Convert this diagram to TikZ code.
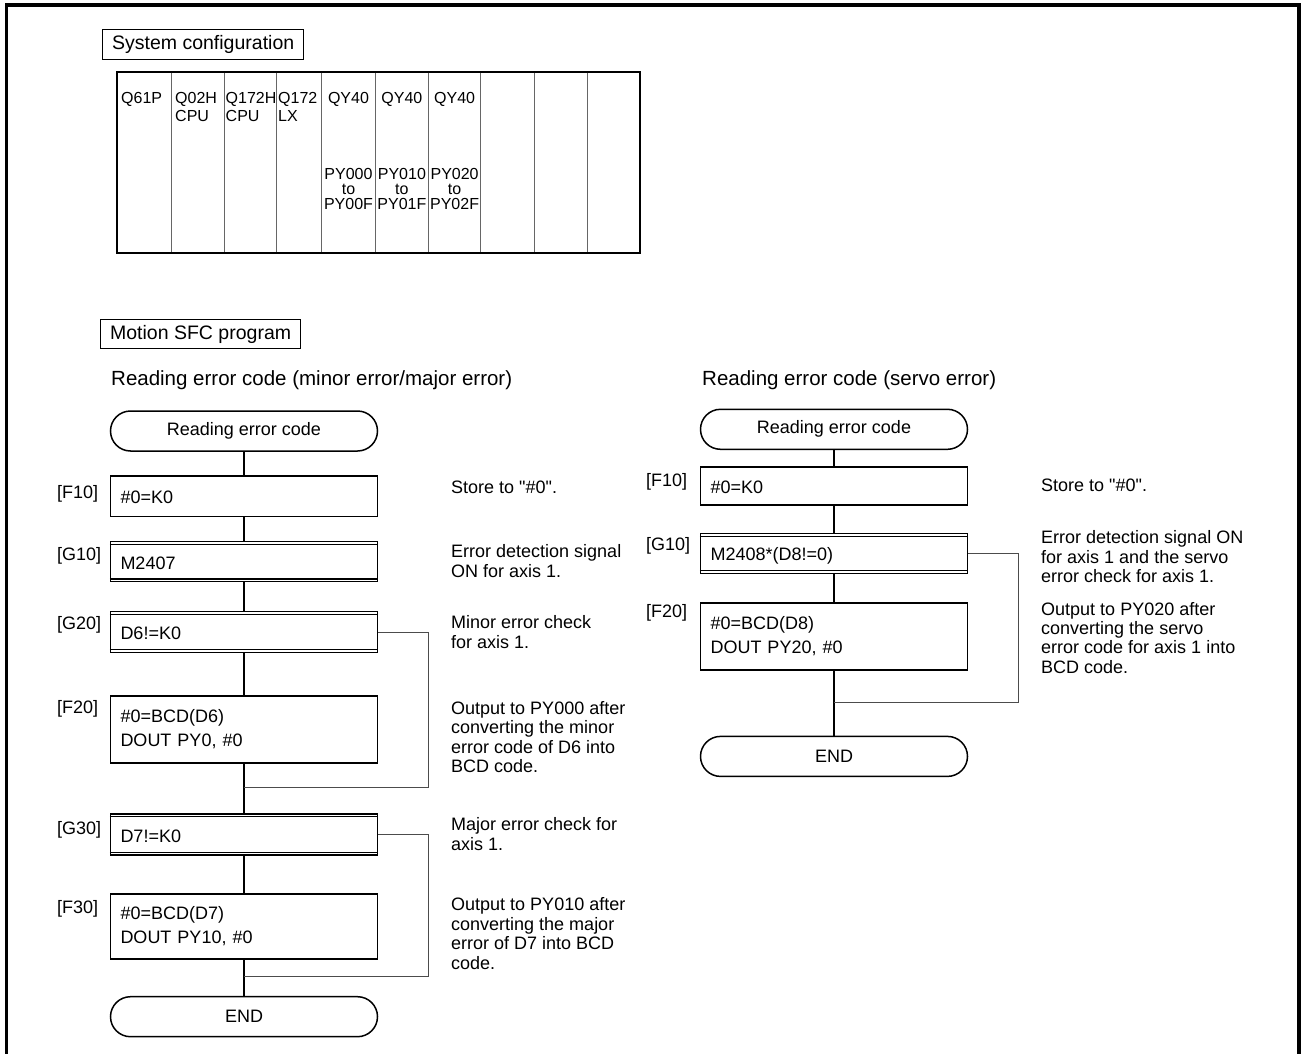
\documentclass[tikz,border=0pt]{standalone}
\usepackage{fontspec}
\setmainfont{Liberation Sans}[Ligatures=TeXOff]
\begin{document}
\begin{tikzpicture}[x=1pt,y=-1pt,
  txt/.style={inner sep=0pt, font=\fontsize{18}{19.4}\selectfont},
  desc/.style={txt, anchor=west, align=left},
  lbl/.style={txt, anchor=base west},
  sub/.style={inner sep=0pt, anchor=base west, font=\fontsize{20.5}{22}\selectfont},
  hdr/.style={draw, line width=1.3pt, inner xsep=9.5pt, inner ysep=0pt, minimum height=29.5pt, anchor=west, font=\fontsize{19.5}{21}\selectfont},
  tt/.style={inner sep=0pt, font=\fontsize{16}{18}\selectfont},
  tp/.style={inner sep=0pt, align=center, font=\fontsize{16}{15.4}\selectfont},
  term/.style={draw, line width=1.5pt, rounded corners=20pt, minimum width=267pt, minimum height=40pt, inner sep=0pt, font=\fontsize{18}{19.4}\selectfont},
  stepbox/.style={draw, line width=1.5pt, minimum width=267pt, text width=247pt, align=left, inner xsep=10pt, inner ysep=0pt, font=\fontsize{18}{24}\selectfont},
  one/.style={text height=15pt, text depth=0pt},
  conn/.style={line width=1.2pt},
  branch/.style={line width=0.9pt, draw=black!70},
  dbl/.style={line width=1.1pt}
]
\useasboundingbox (0,0) rectangle (1301,1054);
% outer frame (open at bottom)
\draw[line width=3.5pt] (6.5,1054) -- (6.5,5) -- (1299,5) -- (1299,1054);

% ---------- system configuration ----------
\node[hdr] (sysh) at (102,44.5) {System configuration};
\draw[line width=2pt] (117,71.7) rectangle (640,253);
\foreach \x in {171,224.4,276.4,321.8,375.3,428.4,480.7,534.5,587.3}
  \draw[line width=0.8pt, black!60] (\x,72.7) -- (\x,252);
\node[tt, anchor=base west] (c1) at (121,103.3) {Q61P};
\node[tt, anchor=west, align=left] (c2) at (175,106.5) {Q02H\\CPU};
\node[tt, anchor=west, align=left] (c3) at (225.5,106.5) {Q172H\\CPU};
\node[tt, anchor=west, align=left] (c4) at (278,106.5) {Q172\\LX};
\node[tt, anchor=base] (c5) at (348.5,103.3) {QY40};
\node[tt, anchor=base] (c6) at (401.9,103.3) {QY40};
\node[tt, anchor=base] (c7) at (454.6,103.3) {QY40};
\node[tp] (p5) at (348.5,189) {PY000\\to\\PY00F};
\node[tp] (p6) at (401.9,189) {PY010\\to\\PY01F};
\node[tp] (p7) at (454.6,189) {PY020\\to\\PY02F};

% ---------- Motion SFC ----------
\node[hdr] (sfch) at (100,334) {Motion SFC program};

% left program
\node[sub] (sub1) at (111,385.7) {Reading error code (minor error/major error)};
\node[term] (s1) at (244,431) {Reading error code};
\node[stepbox, one, minimum height=40.7pt] (f10) at (244,496.3) {\#0=K0};
\node[stepbox, one, minimum height=40pt] (g10) at (244,561.7) {M2407};
\node[stepbox, one, minimum height=40.6pt] (g20) at (244,632) {D6!=K0};
\node[stepbox, minimum height=67.3pt] (f20) at (244,729.4) {\#0=BCD(D6)\\DOUT PY0, \#0};
\node[stepbox, one, minimum height=41pt] (g30) at (244,834.5) {D7!=K0};
\node[stepbox, minimum height=65pt] (f30) at (244,926.5) {\#0=BCD(D7)\\DOUT PY10, \#0};
\node[term] (e1) at (244,1016.7) {END};

\node[lbl] (lf10) at (57,498.3) {[F10]};
\node[lbl] (lg10) at (57,560) {[G10]};
\node[lbl] (lg20) at (57,629) {[G20]};
\node[lbl] (lf20) at (57,713.3) {[F20]};
\node[lbl] (lg30) at (57,834) {[G30]};
\node[lbl] (lf30) at (57,913) {[F30]};

\node[desc] (d1) at (451,487) {Store to "\#0".};
\node[desc] (d2) at (451,561) {Error detection signal\\ON for axis 1.};
\node[desc] (d3) at (451,632) {Minor error check\\for axis 1.};
\node[desc] (d4) at (451,737) {Output to PY000 after\\converting the minor\\error code of D6 into\\BCD code.};
\node[desc] (d5) at (451,834) {Major error check for\\axis 1.};
\node[desc] (d6) at (451,933.5) {Output to PY010 after\\converting the major\\error of D7 into BCD\\code.};

\draw[conn] (s1) -- (f10);
\draw[conn] (f10) -- (g10);
\draw[conn] (g10) -- (g20);
\draw[conn] (g20) -- (f20);
\draw[conn] (f20) -- (g30);
\draw[conn] (g30) -- (f30);
\draw[conn] (f30) -- (e1);
\coordinate (m1) at (244,787.7);
\coordinate (k1) at (428.3,787.7);
\draw[branch] (g20.east) -| (k1) -- (m1);
\coordinate (m2) at (244,976.7);
\coordinate (k2) at (428.3,976.7);
\draw[branch] (g30.east) -| (k2) -- (m2);

% right program
\node[sub] (sub2) at (702,385.7) {Reading error code (servo error)};
\node[term] (s2) at (834,429.3) {Reading error code};
\node[stepbox, one, minimum height=38pt] (rf10) at (834,486.2) {\#0=K0};
\node[stepbox, one, minimum height=40pt] (rg10) at (834,553.3) {M2408*(D8!=0)};
\node[stepbox, minimum height=67.3pt] (rf20) at (834,636.4) {\#0=BCD(D8)\\DOUT PY20, \#0};
\node[term] (e2) at (834,756.4) {END};

\node[lbl] (rlf10) at (646,486) {[F10]};
\node[lbl] (rlg10) at (646,550) {[G10]};
\node[lbl] (rlf20) at (646,617) {[F20]};

\node[desc] (rd1) at (1041,485) {Store to "\#0".};
\node[desc] (rd2) at (1041,556.7) {Error detection signal ON\\for axis 1 and the servo\\error check for axis 1.};
\node[desc] (rd3) at (1041,637.8) {Output to PY020 after\\converting the servo\\error code for axis 1 into\\BCD code.};

\draw[conn] (s2) -- (rf10);
\draw[conn] (rf10) -- (rg10);
\draw[conn] (rg10) -- (rf20);
\draw[conn] (rf20) -- (e2);
\coordinate (m3) at (834,702.7);
\coordinate (k3) at (1018,702.7);
\draw[branch] (rg10.east) -| (k3) -- (m3);

% double lines of the transition boxes
\foreach \n in {g10,g20,g30,rg10} {
  \draw[dbl] ([yshift=-3.5pt]\n.north west) -- ([yshift=-3.5pt]\n.north east);
  \draw[dbl] ([yshift=3.5pt]\n.south west) -- ([yshift=3.5pt]\n.south east);
}
\end{tikzpicture}
\end{document}
